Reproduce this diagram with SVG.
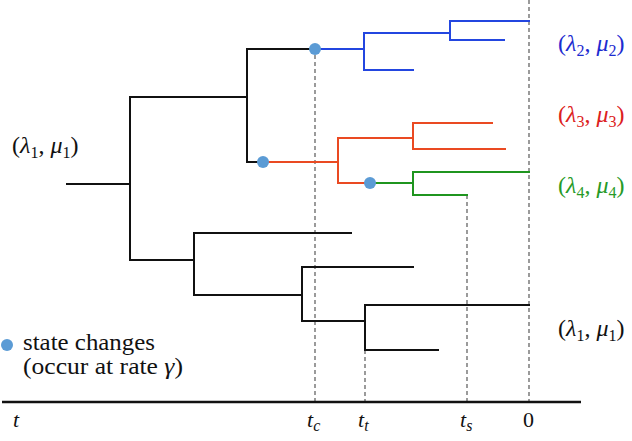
<svg xmlns="http://www.w3.org/2000/svg" width="632" height="441" viewBox="0 0 632 441">
<style>
.br{fill:none;stroke-width:2;stroke-linecap:square}
.k{stroke:#111}
.b{stroke:#2346e0}
.r{stroke:#ea4a22}
.g{stroke:#1f951f}
.dash{fill:none;stroke:#666;stroke-width:1.3;stroke-dasharray:4,3}
.dot{fill:#5b9bd5}
.i{font-style:italic}
</style>
<rect width="632" height="441" fill="#fff"/>
<g id="guides">
<path class="dash" d="M315,55V402M365,350V402M467,195V402M529,0V402"/>
</g>
<g id="connectors">
<path class="br k" d="M67,184H130M130,260V97H247M247,162V49H315M247,162H263M130,260H194M194,233V295M194,233H351M194,295H302M302,267V321M302,267H413M302,321H365M365,305V350M365,305H529M365,350H438"/>
<path class="br b" d="M315,49H364M364,33V70M364,33H450M364,70H413M450,21V40M450,21H529M450,40H504"/>
<path class="br r" d="M263,162H338M338,138V183M338,138H413M413,123V149M413,123H492M413,149H505M338,183H370"/>
<path class="br g" d="M370,183H413M413,172V195M413,172H529M413,195H467"/>
</g>
<g id="state-changes">
<circle class="dot" cx="315" cy="49" r="6"/>
<circle class="dot" cx="263" cy="162" r="6"/>
<circle class="dot" cx="370" cy="183" r="6"/>
</g>
<g font-family="Liberation Serif, Times New Roman, serif" font-size="24">
<g id="label-root">
<text x="12" y="153" fill="#111">(<tspan class="i">λ</tspan><tspan font-size="16" dy="5">1</tspan><tspan dy="-5">, </tspan><tspan class="i">μ</tspan><tspan font-size="16" dy="5">1</tspan><tspan dy="-5">)</tspan></text>
</g>
<g id="label-2">
<text x="558" y="51" fill="#1c2bd0">(<tspan class="i">λ</tspan><tspan font-size="16" dy="5">2</tspan><tspan dy="-5">, </tspan><tspan class="i">μ</tspan><tspan font-size="16" dy="5">2</tspan><tspan dy="-5">)</tspan></text>
</g>
<g id="label-3">
<text x="558" y="122" fill="#dc2020">(<tspan class="i">λ</tspan><tspan font-size="16" dy="5">3</tspan><tspan dy="-5">, </tspan><tspan class="i">μ</tspan><tspan font-size="16" dy="5">3</tspan><tspan dy="-5">)</tspan></text>
</g>
<g id="label-4">
<text x="558" y="193" fill="#279a27">(<tspan class="i">λ</tspan><tspan font-size="16" dy="5">4</tspan><tspan dy="-5">, </tspan><tspan class="i">μ</tspan><tspan font-size="16" dy="5">4</tspan><tspan dy="-5">)</tspan></text>
</g>
<g id="label-1b">
<text x="558" y="336" fill="#111">(<tspan class="i">λ</tspan><tspan font-size="16" dy="5">1</tspan><tspan dy="-5">, </tspan><tspan class="i">μ</tspan><tspan font-size="16" dy="5">1</tspan><tspan dy="-5">)</tspan></text>
</g>
<g id="legend" fill="#111" font-size="23">
<circle class="dot" cx="7" cy="345" r="6"/>
<text x="23" y="350" textLength="132" lengthAdjust="spacingAndGlyphs">state changes</text>
<text x="23" y="374" textLength="160" lengthAdjust="spacingAndGlyphs">(occur at rate <tspan class="i">γ</tspan>)</text>
</g>
<g id="axis" fill="#111" font-size="22">
<path d="M2,402H581" stroke="#111" stroke-width="2.5" fill="none"/>
<text class="i" x="13" y="427">t</text>
<text x="307" y="427"><tspan class="i">t</tspan><tspan class="i" font-size="16" dy="4">c</tspan></text>
<text x="358" y="427"><tspan class="i">t</tspan><tspan class="i" font-size="16" dy="4">t</tspan></text>
<text x="460" y="427"><tspan class="i">t</tspan><tspan class="i" font-size="16" dy="4">s</tspan></text>
<text x="523" y="427">0</text>
</g>
</g>
</svg>
